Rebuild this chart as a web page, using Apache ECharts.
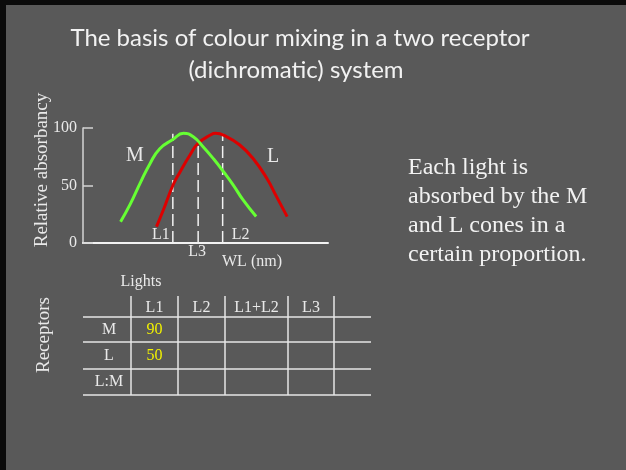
<!DOCTYPE html>
<html>
<head>
<meta charset="utf-8">
<title>Colour mixing in a dichromatic system</title>
<script src="https://cdn.jsdelivr.net/npm/echarts@6/dist/echarts.min.js"></script>
<style>
  html, body { margin: 0; padding: 0; background: #595959; }
  #chart { width: 626px; height: 470px; }
</style>
</head>
<body>
<div id="chart"></div>
<script>
// Absorbance spectra of the two cone types: [wavelength nm, relative absorbance]
const mCone = [[446, 18.5], [458, 34], [470, 52], [482, 69], [494, 82], [523, 95.4],
  [535, 92.4], [547, 83.7], [560, 73], [572, 62], [584, 50.4], [596, 37.4], [612, 23]];
const lCone = [[490, 14.2], [498, 28], [519, 62], [531, 76.5], [541, 86.7], [556, 93.9],
  [562, 95.4], [576, 92.4], [592, 85.2], [608, 73.7], [625, 56.3], [637, 40.3], [650, 22.9]];

// Test lights: name, wavelength (nm), height of the marker line
const lightNames = ['L1', 'L3', 'L2'];
const lightWL = [510, 541, 571];
const lightTop = [95, 86, 95];

// Absorbance table
const tableLights = ['L1', 'L2', 'L1+L2', 'L3', ''];
const receptors = ['M', 'L', 'L:M'];
const mValues = [90, null, null, null, null];
const lValues = [50, null, null, null, null];
const ratioValues = [null, null, null, null, null];

const yTicks = [0, 50, 100];

// The table's L1 readings sit on the curves at the L1 wavelength
function withPoint(curve, wl, v) {
  return curve.concat([[wl, v]]).sort((a, b) => a[0] - b[0]);
}
const mData = withPoint(mCone, lightWL[0], mValues[0]);
const lData = withPoint(lCone, lightWL[0], lValues[0]);

const SERIF = '"Liberation Serif", "Times New Roman", serif';
const TXT = '#e9e9e9';

// where each light's name sits relative to the foot of its marker line
const lightLabelOffset = { L1: [-12, -8], L2: [18, -8], L3: [-1, 9] };

// table layout (grid units = px inside the table grid)
const colEdges = [0, 48, 95, 142, 205, 251, 288];
const rowEdges = [0, 21, 46, 73, 99];

const cells = [];
const rowsVals = [mValues, lValues, ratioValues];
for (let r = 0; r < 4; r++) {
  for (let c = 0; c < 6; c++) {
    let text = '', color = TXT;
    if (r === 0 && c > 0) text = tableLights[c - 1];
    else if (r > 0 && c === 0) text = receptors[r - 1];
    else if (r > 0 && c > 0) {
      const v = rowsVals[r - 1][c - 1];
      if (v != null) { text = String(v); color = '#f2f200'; }
    }
    cells.push({ value: [c, r], text: text, color: color });
  }
}

const lineStyleTable = { stroke: '#e6e6e6', lineWidth: 1.5 };

function renderCell(params, api) {
  const c = api.value(0), r = api.value(1);
  const cell = cells[params.dataIndex];
  const p0 = api.coord([colEdges[c], rowEdges[r]]);
  const p1 = api.coord([colEdges[c + 1], rowEdges[r + 1]]);
  const children = [{
    type: 'line',
    shape: { x1: p0[0], y1: p1[1], x2: p1[0], y2: p1[1] },
    style: lineStyleTable
  }];
  if (c < 5) {
    children.push({
      type: 'line',
      shape: { x1: p1[0], y1: p0[1], x2: p1[0], y2: p1[1] },
      style: lineStyleTable
    });
  }
  if (cell.text) {
    children.push({
      type: 'text',
      x: (p0[0] + p1[0]) / 2 + (c === 0 ? 2 : 0),
      y: (p0[1] + p1[1]) / 2 + (r === 0 ? 1 : 0),
      style: {
        text: cell.text, fill: cell.color, font: '16px ' + SERIF,
        align: 'center', verticalAlign: 'middle'
      }
    });
  }
  return { type: 'group', children: children };
}

const lightSeries = lightNames.map((name, i) => ({
  type: 'line',
  xAxisIndex: 0, yAxisIndex: 0,
  silent: true,
  symbol: 'circle', symbolSize: 0,
  lineStyle: { color: '#f2f2f2', width: 1.5, type: [12, 5] },
  data: [
    {
      value: [lightWL[i], 0],
      label: {
        show: true, formatter: name, position: 'inside',
        offset: lightLabelOffset[name],
        color: TXT, fontFamily: SERIF, fontSize: 16
      }
    },
    [lightWL[i], lightTop[i]]
  ],
  z: 1
}));

const chart = echarts.init(document.getElementById('chart'), null, { renderer: 'canvas' });
chart.setOption({
  backgroundColor: '#595959',
  animation: false,
  grid: [
    { left: 83, top: 128, width: 245, height: 115, containLabel: false, outerBoundsMode: 'none' },
    { left: 83, top: 296, width: 288, height: 99, containLabel: false, outerBoundsMode: 'none' }
  ],
  xAxis: [
    {
      type: 'value', gridIndex: 0, min: 400, max: 700,
      axisLine: { show: true, onZero: false, lineStyle: { color: '#f2f2f2', width: 2 } },
      axisTick: { show: false }, axisLabel: { show: false }, splitLine: { show: false }
    },
    { type: 'value', gridIndex: 1, min: 0, max: 288, show: false }
  ],
  yAxis: [
    {
      type: 'value', gridIndex: 0, min: 0, max: 100, interval: 50,
      axisLine: { show: true, lineStyle: { color: '#d4d4d4', width: 1.5 } },
      axisTick: { show: true, inside: true, length: 10, lineStyle: { color: '#d4d4d4', width: 1.5 } },
      axisLabel: {
        margin: 6, color: TXT, fontFamily: SERIF, fontSize: 16,
        formatter: v => (yTicks.indexOf(v) >= 0 ? String(v) : '')
      },
      splitLine: { show: false }
    },
    { type: 'value', gridIndex: 1, min: 0, max: 99, inverse: true, show: false }
  ],
  series: [
    {
      name: 'M', type: 'line', smooth: true, symbol: 'none',
      lineStyle: { color: '#66ff33', width: 3 }, data: mData, z: 3
    },
    {
      name: 'L', type: 'line', smooth: true, symbol: 'none',
      lineStyle: { color: '#dd0000', width: 3 }, data: lData, z: 2
    },
    ...lightSeries,
    {
      type: 'custom', xAxisIndex: 1, yAxisIndex: 1, clip: false, silent: true,
      renderItem: renderCell, data: cells.map(d => d.value)
    }
  ],
  graphic: [
    // slide frame edge
    { type: 'rect', shape: { x: 0, y: 0, width: 6, height: 470 }, style: { fill: '#0b0b0b' } },
    { type: 'rect', shape: { x: 0, y: 0, width: 626, height: 5 }, style: { fill: '#0b0b0b' } },
    {
      type: 'text', x: 300, y: 38,
      style: { text: 'The basis of colour mixing in a two receptor', font: '24px Lato', fill: '#f2f2f2', align: 'center', verticalAlign: 'middle' }
    },
    {
      type: 'text', x: 296, y: 70,
      style: { text: '(dichromatic) system', font: '24px Lato', fill: '#f2f2f2', align: 'center', verticalAlign: 'middle' }
    },
    {
      type: 'text', x: 42, y: 170, rotation: Math.PI / 2,
      style: { text: 'Relative absorbancy', font: '19px ' + SERIF, fill: TXT, align: 'center', verticalAlign: 'middle' }
    },
    {
      type: 'text', x: 135, y: 156,
      style: { text: 'M', font: '20px ' + SERIF, fill: TXT, align: 'center', verticalAlign: 'middle' }
    },
    {
      type: 'text', x: 273, y: 157,
      style: { text: 'L', font: '20px ' + SERIF, fill: TXT, align: 'center', verticalAlign: 'middle' }
    },
    {
      type: 'text', x: 252, y: 262,
      style: { text: 'WL (nm)', font: '16px ' + SERIF, fill: TXT, align: 'center', verticalAlign: 'middle' }
    },
    {
      type: 'text', x: 141, y: 282,
      style: { text: 'Lights', font: '16px ' + SERIF, fill: TXT, align: 'center', verticalAlign: 'middle' }
    },
    {
      type: 'text', x: 44, y: 335, rotation: Math.PI / 2,
      style: { text: 'Receptors', font: '19px ' + SERIF, fill: TXT, align: 'center', verticalAlign: 'middle' }
    },
    {
      type: 'text', x: 408, y: 153,
      style: {
        text: 'Each light is\nabsorbed by the M\nand L cones in a\ncertain proportion.',
        font: '24px ' + SERIF, lineHeight: 29, fill: '#f2f2f2', align: 'left', verticalAlign: 'top'
      }
    }
  ]
});
</script>
</body>
</html>
